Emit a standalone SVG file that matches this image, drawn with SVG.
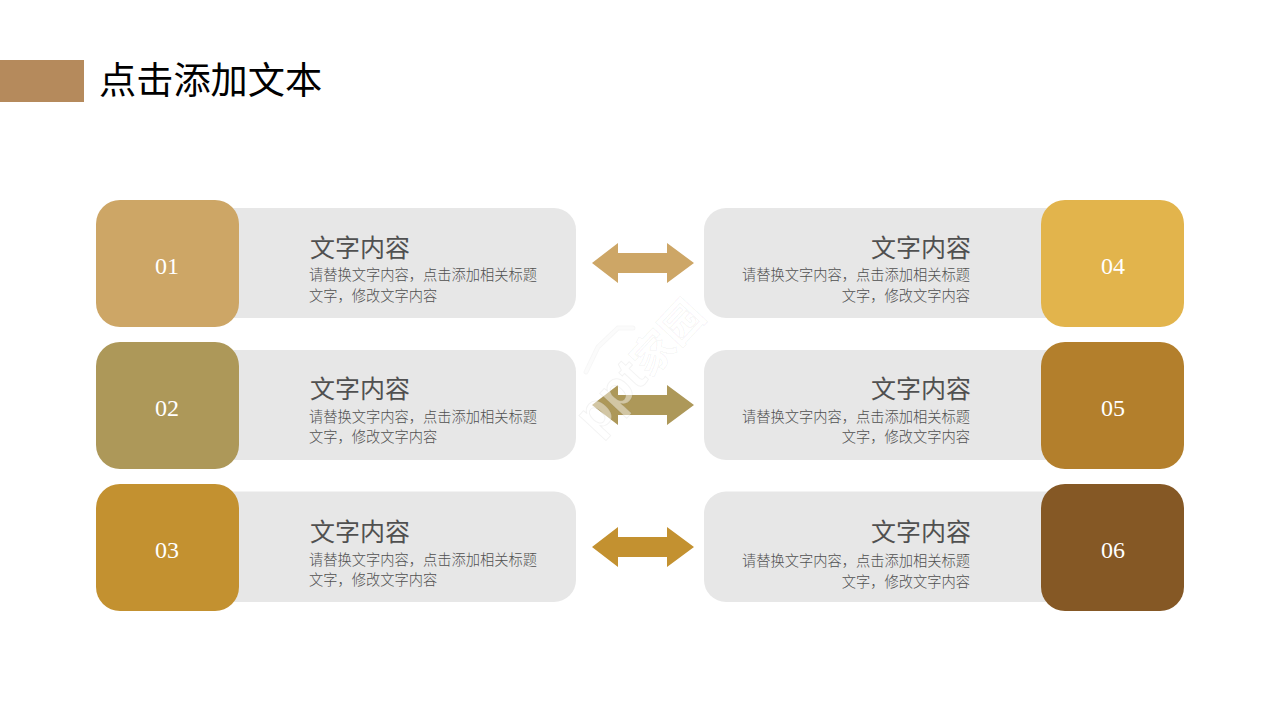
<svg xmlns="http://www.w3.org/2000/svg" width="1280" height="720" viewBox="0 0 1280 720">
<defs>
<path id="arrow" d="M592 0L618 -20V-10H667V-20L694 0L667 20V10H618V20Z"/>
</defs>
<style>
text{font-family:"Liberation Serif","Noto Sans CJK SC",serif}
.panel{fill:#e7e7e7}
.num{font-size:24px;fill:#fff;text-anchor:middle}
.head{font-size:25px;fill:#505050}
.body{font-size:14.25px;fill:#505050;font-family:"Noto Sans CJK SC",sans-serif;font-weight:300}
.r{text-anchor:end}
.wm{font-family:"Liberation Sans","Noto Sans CJK SC",sans-serif;font-weight:700;fill:#fff;fill-opacity:.45;stroke:#000;stroke-opacity:.05;stroke-width:1}
.roof{fill:none;stroke:#fff;stroke-opacity:.6;stroke-width:3;stroke-linecap:round}
.roof2{fill:none;stroke:#000;stroke-opacity:.035;stroke-width:5;stroke-linecap:round}
</style>
<rect width="1280" height="720" fill="#fff"/>
<g id="header">
<rect x="0" y="60" width="84" height="42" fill="#b58a5c"/>
<text x="99" y="94" font-size="37.2" fill="#000">点击添加文本</text>
</g>
<g id="connectors">
<use href="#arrow" y="263" fill="#cda666"/>
<use href="#arrow" y="405" fill="#ad9859"/>
<use href="#arrow" y="547" fill="#c39130"/>
</g>
<g id="node-01">
<rect class="panel" x="200" y="208" width="376" height="110" rx="22"/>
<rect x="96" y="200" width="143" height="127" rx="24" fill="#cda666"/>
<text class="num" x="167" y="274">01</text>
<text class="head" x="310" y="257">文字内容</text>
<text class="body" x="309" y="280">请替换文字内容，点击添加相关标题</text>
<text class="body" x="309" y="301">文字，修改文字内容</text>
</g>
<g id="node-02">
<rect class="panel" x="200" y="350" width="376" height="110" rx="22"/>
<rect x="96" y="342" width="143" height="127" rx="24" fill="#ad9859"/>
<text class="num" x="167" y="416">02</text>
<text class="head" x="310" y="398">文字内容</text>
<text class="body" x="309" y="422">请替换文字内容，点击添加相关标题</text>
<text class="body" x="309" y="442">文字，修改文字内容</text>
</g>
<g id="node-03">
<rect class="panel" x="200" y="491.5" width="376" height="110.5" rx="22"/>
<rect x="96" y="484" width="143" height="127" rx="24" fill="#c39130"/>
<text class="num" x="167" y="558">03</text>
<text class="head" x="310" y="541">文字内容</text>
<text class="body" x="309" y="565">请替换文字内容，点击添加相关标题</text>
<text class="body" x="309" y="585">文字，修改文字内容</text>
</g>
<g id="node-04">
<rect class="panel" x="704" y="208" width="376" height="110" rx="22"/>
<rect x="1041" y="200" width="143" height="127" rx="24" fill="#e2b44c"/>
<text class="num" x="1113" y="274">04</text>
<text class="head r" x="971" y="257">文字内容</text>
<text class="body r" x="970" y="280">请替换文字内容，点击添加相关标题</text>
<text class="body r" x="970" y="301">文字，修改文字内容</text>
</g>
<g id="node-05">
<rect class="panel" x="704" y="350" width="376" height="110" rx="22"/>
<rect x="1041" y="342" width="143" height="127" rx="24" fill="#b37f2c"/>
<text class="num" x="1113" y="416">05</text>
<text class="head r" x="971" y="398">文字内容</text>
<text class="body r" x="970" y="422">请替换文字内容，点击添加相关标题</text>
<text class="body r" x="970" y="442">文字，修改文字内容</text>
</g>
<g id="node-06">
<rect class="panel" x="704" y="491.5" width="376" height="110.5" rx="22"/>
<rect x="1041" y="484" width="143" height="127" rx="24" fill="#855825"/>
<text class="num" x="1113" y="558">06</text>
<text class="head r" x="971" y="541">文字内容</text>
<text class="body r" x="970" y="566">请替换文字内容，点击添加相关标题</text>
<text class="body r" x="970" y="587">文字，修改文字内容</text>
</g>
<g id="watermark">
<polyline class="roof2" points="586,372 598,347 618,328 633,328"/>
<polyline class="roof" points="586,372 598,347 618,328 633,328"/>
<text class="wm" transform="translate(596 436) rotate(-47)" font-size="50">ppt<tspan font-size="42" dx="1">家园</tspan></text>
</g>
</svg>
